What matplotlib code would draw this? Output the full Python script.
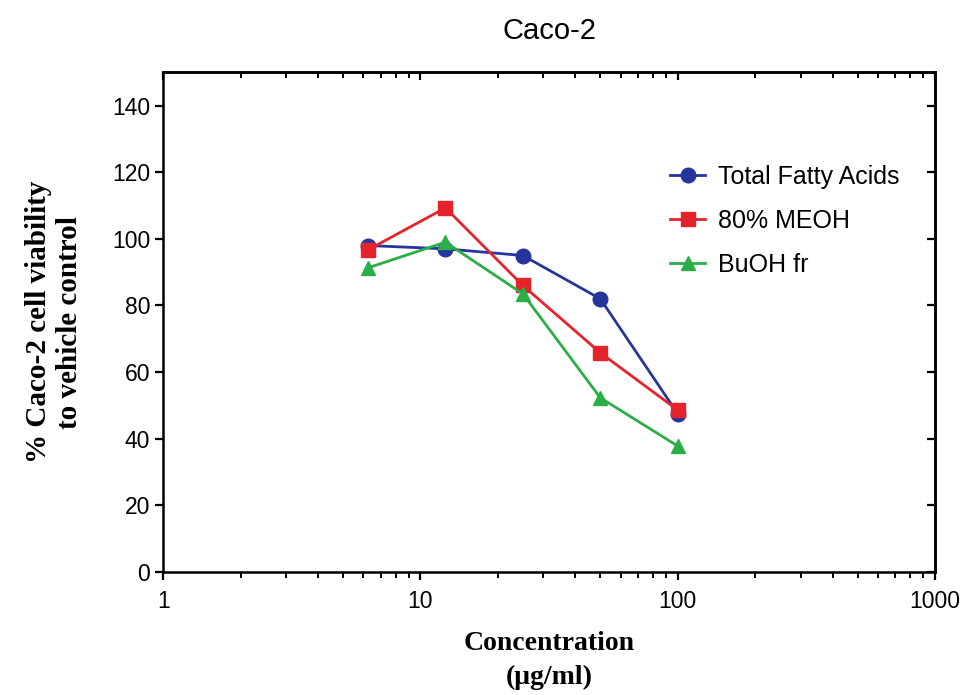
import matplotlib
matplotlib.use("Agg")
import matplotlib.pyplot as plt
from matplotlib.ticker import LogLocator, NullFormatter, FixedLocator

conc = [6.25, 12.5, 25, 50, 100]
tfa = [98, 97, 95, 82, 47.5]
meoh = [96.7, 109.3, 86, 65.8, 48.6]
buoh = [91.3, 99, 83.5, 52.3, 37.8]
labels = ["Total Fatty Acids", "80% MEOH", "BuOH fr"]
yticks = [0, 20, 40, 60, 80, 100, 120, 140]
xticks = [1, 10, 100, 1000]

fig = plt.figure(figsize=(9.6, 6.95), dpi=100)
ax = fig.add_axes([0.170, 0.177, 0.804, 0.719])

ax.plot(conc, tfa, '-o', color='#26359c', lw=2, ms=10.5, label=labels[0])
ax.plot(conc, meoh, '-s', color='#e5232b', lw=2, ms=9.5, label=labels[1])
ax.plot(conc, buoh, '-^', color='#2aae48', lw=2, ms=10, label=labels[2])

ax.set_xscale('log')
ax.set_xlim(1, 1000)
ax.set_ylim(0, 150)
ax.set_yticks(yticks)
ax.xaxis.set_major_locator(FixedLocator(xticks))
ax.xaxis.set_minor_locator(LogLocator(base=10, subs=range(2, 10)))
ax.xaxis.set_minor_formatter(NullFormatter())
ax.set_xticklabels([str(v) for v in xticks])

for s in ax.spines.values():
    s.set_linewidth(1.8)
ax.tick_params(which='major', direction='out', length=6, width=1.6, labelsize=16.5)
ax.tick_params(axis='x', which='major', pad=7)
ax.tick_params(axis='y', which='major', pad=3.5)
ax.tick_params(which='minor', direction='out', length=4, width=1.4)
for lab in ax.get_xticklabels() + ax.get_yticklabels():
    lab.set_family('Liberation Sans')

# inward ticks on top and right
top = ax.secondary_xaxis('top')
top.xaxis.set_major_locator(FixedLocator(xticks))
top.xaxis.set_minor_locator(LogLocator(base=10, subs=range(2, 10)))
top.tick_params(which='major', direction='in', length=6, width=1.6, labeltop=False)
top.tick_params(which='minor', direction='in', length=4, width=1.4, labeltop=False)
top.spines['top'].set_linewidth(1.8)
right = ax.secondary_yaxis('right')
right.set_yticks(yticks)
right.tick_params(direction='in', length=6, width=1.6, labelright=False)
right.spines['right'].set_linewidth(1.8)

ax.set_title("Caco-2", fontsize=21, family='Liberation Sans', pad=24)
ax.set_xlabel("Concentration\n(\u03bcg/ml)", fontsize=20, family='Liberation Serif',
              fontweight='bold', labelpad=13, linespacing=1.45)
ax.set_ylabel("% Caco-2 cell viability\nto vehicle control", fontsize=21,
              family='Liberation Serif', fontweight='bold', labelpad=21, linespacing=1.15)

leg = ax.legend(loc='upper left', bbox_to_anchor=(0.657, 0.815), frameon=False,
                handlelength=1.4, labelspacing=0.8, handletextpad=0.52,
                borderaxespad=0, borderpad=0,
                prop={'family': 'Liberation Sans', 'size': 18})

fig.savefig("out.png", dpi=100)
